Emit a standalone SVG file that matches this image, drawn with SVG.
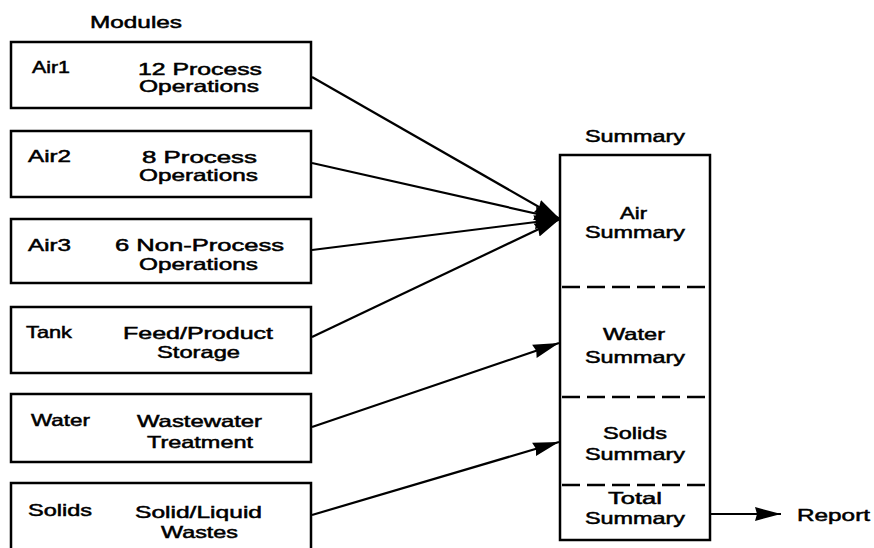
<svg xmlns="http://www.w3.org/2000/svg" width="874" height="548" viewBox="0 0 874 548">
<defs>
<style>
text{font-family:"Liberation Sans",Arial,sans-serif;font-size:16.5px;fill:#000;stroke:#000;stroke-width:0.5px}
.box{fill:#fff;stroke:#000;stroke-width:2.5}
.dash{stroke:#000;stroke-width:2.5;stroke-dasharray:18 7;fill:none}
.conn{stroke:#000;stroke-width:2.2;fill:none}
</style>
<marker id="ah" markerUnits="userSpaceOnUse" markerWidth="28" markerHeight="16" refX="26" refY="8" orient="auto">
<path d="M0,1 L26,8 L0,15 L2,8 Z" fill="#000"/>
</marker>
</defs>
<rect width="874" height="548" fill="#fff"/>
<text x="90" y="28" textLength="92" lengthAdjust="spacingAndGlyphs">Modules</text>

<g id="air1">
<rect class="box" x="11" y="42" width="300" height="66"/>
<text x="32" y="73" textLength="38" lengthAdjust="spacingAndGlyphs">Air1</text>
<text x="138" y="75" textLength="124" lengthAdjust="spacingAndGlyphs">12 Process</text>
<text x="139" y="92" textLength="120" lengthAdjust="spacingAndGlyphs">Operations</text>
</g>
<g id="air2">
<rect class="box" x="11" y="131" width="300" height="66"/>
<text x="28" y="162" textLength="43" lengthAdjust="spacingAndGlyphs">Air2</text>
<text x="142" y="163" textLength="115" lengthAdjust="spacingAndGlyphs">8 Process</text>
<text x="139" y="181" textLength="119" lengthAdjust="spacingAndGlyphs">Operations</text>
</g>
<g id="air3">
<rect class="box" x="11" y="219" width="300" height="64"/>
<text x="28" y="251" textLength="43" lengthAdjust="spacingAndGlyphs">Air3</text>
<text x="115" y="251" textLength="169" lengthAdjust="spacingAndGlyphs">6 Non-Process</text>
<text x="139" y="270" textLength="119" lengthAdjust="spacingAndGlyphs">Operations</text>
</g>
<g id="tank">
<rect class="box" x="11" y="307" width="300" height="66"/>
<text x="26" y="338" textLength="46" lengthAdjust="spacingAndGlyphs">Tank</text>
<text x="123" y="339" textLength="150" lengthAdjust="spacingAndGlyphs">Feed/Product</text>
<text x="157" y="358" textLength="83" lengthAdjust="spacingAndGlyphs">Storage</text>
</g>
<g id="water">
<rect class="box" x="11" y="394" width="300" height="68"/>
<text x="31" y="426" textLength="59" lengthAdjust="spacingAndGlyphs">Water</text>
<text x="137" y="427" textLength="125" lengthAdjust="spacingAndGlyphs">Wastewater</text>
<text x="147" y="448" textLength="106" lengthAdjust="spacingAndGlyphs">Treatment</text>
</g>
<g id="solids">
<rect class="box" x="11" y="483" width="300" height="80"/>
<text x="28" y="516" textLength="64" lengthAdjust="spacingAndGlyphs">Solids</text>
<text x="135" y="518" textLength="127" lengthAdjust="spacingAndGlyphs">Solid/Liquid</text>
<text x="161" y="538" textLength="77" lengthAdjust="spacingAndGlyphs">Wastes</text>
</g>

<g id="summary">
<text x="585" y="142" textLength="100" lengthAdjust="spacingAndGlyphs">Summary</text>
<rect class="box" x="560" y="155" width="150" height="385"/>
<line class="dash" x1="562" y1="287" x2="707" y2="287"/>
<line class="dash" x1="562" y1="397" x2="707" y2="397"/>
<line class="dash" x1="562" y1="485" x2="707" y2="485"/>
<text x="620" y="219" textLength="27" lengthAdjust="spacingAndGlyphs">Air</text>
<text x="585" y="238" textLength="100" lengthAdjust="spacingAndGlyphs">Summary</text>
<text x="603" y="340" textLength="62" lengthAdjust="spacingAndGlyphs">Water</text>
<text x="585" y="363" textLength="100" lengthAdjust="spacingAndGlyphs">Summary</text>
<text x="603" y="439" textLength="64" lengthAdjust="spacingAndGlyphs">Solids</text>
<text x="585" y="460" textLength="100" lengthAdjust="spacingAndGlyphs">Summary</text>
<text x="608" y="504" textLength="54" lengthAdjust="spacingAndGlyphs">Total</text>
<text x="585" y="524" textLength="100" lengthAdjust="spacingAndGlyphs">Summary</text>
</g>

<g id="report">
<text x="797" y="521" textLength="73" lengthAdjust="spacingAndGlyphs">Report</text>
</g>

<g id="connectors">
<line class="conn" x1="312" y1="77" x2="560" y2="219" marker-end="url(#ah)"/>
<line class="conn" x1="312" y1="163" x2="560" y2="219" marker-end="url(#ah)"/>
<line class="conn" x1="312" y1="250" x2="560" y2="219" marker-end="url(#ah)"/>
<line class="conn" x1="312" y1="337" x2="560" y2="219" marker-end="url(#ah)"/>
<line class="conn" x1="312" y1="427" x2="559" y2="343" marker-end="url(#ah)"/>
<line class="conn" x1="312" y1="515" x2="559" y2="442" marker-end="url(#ah)"/>
<line class="conn" x1="711" y1="514" x2="781" y2="514" marker-end="url(#ah)"/>
</g>
</svg>
